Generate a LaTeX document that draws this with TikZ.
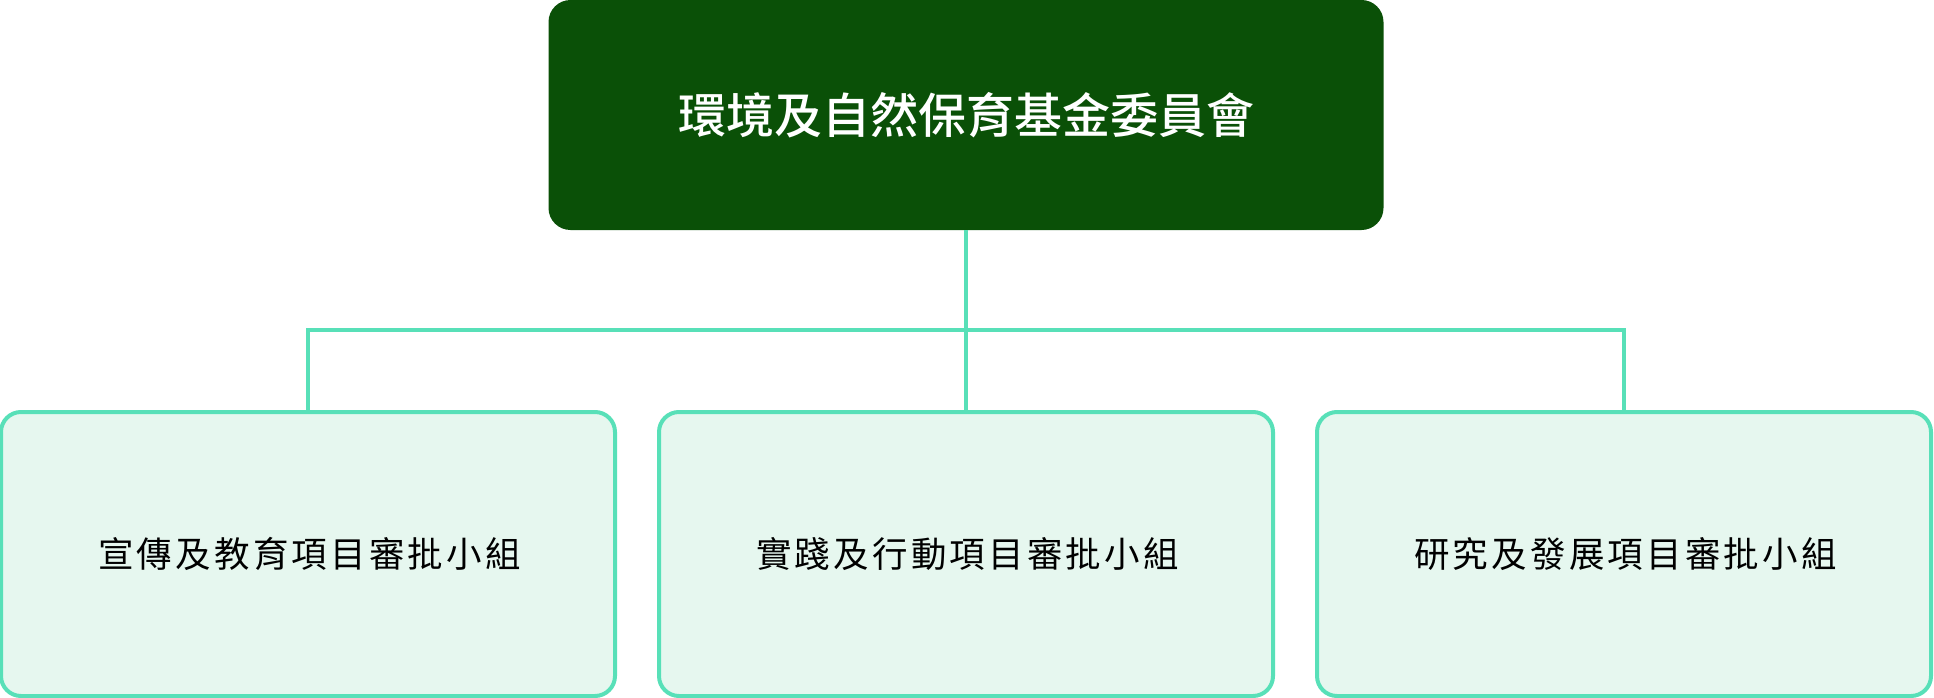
\documentclass[tikz,border=0pt]{standalone}
\usepackage{fontspec}
\usepackage{xcolor}
\newfontfamily\cjk{Noto Sans CJK TC Medium}
\newfontfamily\cjkwide[LetterSpace=9]{Noto Sans CJK TC}
\usetikzlibrary{positioning}
\definecolor{boardgreen}{RGB}{10,80,7}
\definecolor{linkgreen}{RGB}{88,224,184}
\definecolor{panelgreen}{RGB}{230,247,239}

\tikzset{
  board/.style={fill=boardgreen, rounded corners=22pt, minimum width=835pt,
    minimum height=230pt, inner sep=0pt, text=white,
    font=\cjk\fontsize{48pt}{56pt}\selectfont},
  panel/.style={draw=linkgreen, line width=4pt, fill=panelgreen, rounded corners=20pt,
    minimum width=614pt, minimum height=284pt, inner sep=0pt, text=black,
    font=\cjkwide\fontsize{35.5pt}{42pt}\selectfont},
  link/.style={draw=linkgreen, line width=4pt}
}

\begin{document}
\begin{tikzpicture}[x=1pt,y=-1pt]
\useasboundingbox (0,0) rectangle (1934,698);

% Committee
\node[board] (board) at (966,115) {環境及自然保育基金委員會};

% Panels
\node[panel] (promo) at (308,554) {宣傳及教育項目審批小組\kern-3pt};
\node[panel] (action) at (966,554) {實踐及行動項目審批小組\kern-3pt};
\node[panel] (research) at (1624,554) {研究及發展項目審批小組\kern-3pt};

% Links
\coordinate (split) at (966,330);
\draw[link] (board.south) -- (split);
\draw[link] (split) -| (promo.north);
\draw[link] (split) -| (research.north);
\draw[link] (split) -- (action.north);

\end{tikzpicture}
\end{document}
